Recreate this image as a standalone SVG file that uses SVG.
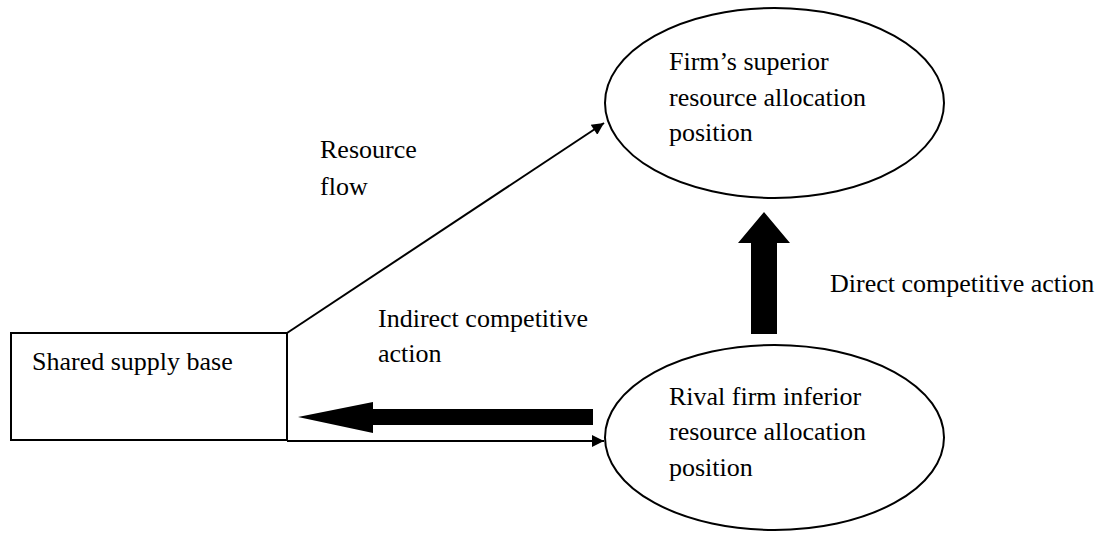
<svg xmlns="http://www.w3.org/2000/svg" width="1106" height="533" viewBox="0 0 1106 533">
<style>
text{font-family:"Liberation Serif","Times New Roman",serif;font-size:26px;fill:#000}
.shape{fill:#fff;stroke:#000;stroke-width:2}
.line{fill:none;stroke:#000;stroke-width:2}
.thick{fill:#000;stroke:none}
</style>
<defs>
<marker id="ah" viewBox="0 0 10 10" refX="10" refY="5" markerWidth="8" markerHeight="6" markerUnits="strokeWidth" orient="auto">
<path d="M0,0 L10,5 L0,10 z" fill="#000"/>
</marker>
</defs>
<rect width="1106" height="533" fill="#fff"/>
<g id="supply">
<rect class="shape" x="11" y="333" width="276" height="107"/>
<text x="32" y="370">Shared supply base</text>
</g>
<g id="firm">
<ellipse class="shape" cx="774.5" cy="103" rx="169.5" ry="95"/>
<text x="669" y="70">Firm’s superior</text>
<text x="669" y="106">resource allocation</text>
<text x="669" y="141">position</text>
</g>
<g id="rival">
<ellipse class="shape" cx="774.5" cy="437.5" rx="169.5" ry="92.5"/>
<text x="669" y="405">Rival firm inferior</text>
<text x="669" y="440">resource allocation</text>
<text x="669" y="476">position</text>
</g>
<g id="connectors">
<line class="line" x1="287" y1="333" x2="604" y2="123" marker-end="url(#ah)"/>
<line class="line" x1="287" y1="441" x2="604" y2="441" marker-end="url(#ah)"/>
<polygon class="thick" points="593,409 373,409 373,402 298,417 373,433 373,425 593,425"/>
<polygon class="thick" points="751,334 751,243 738,243 764,212 790,243 777,243 777,334"/>
</g>
<g id="labels">
<text x="320" y="158">Resource</text>
<text x="320" y="195">flow</text>
<text x="378" y="327">Indirect competitive</text>
<text x="378" y="362">action</text>
<text x="830" y="292">Direct competitive action</text>
</g>
</svg>
